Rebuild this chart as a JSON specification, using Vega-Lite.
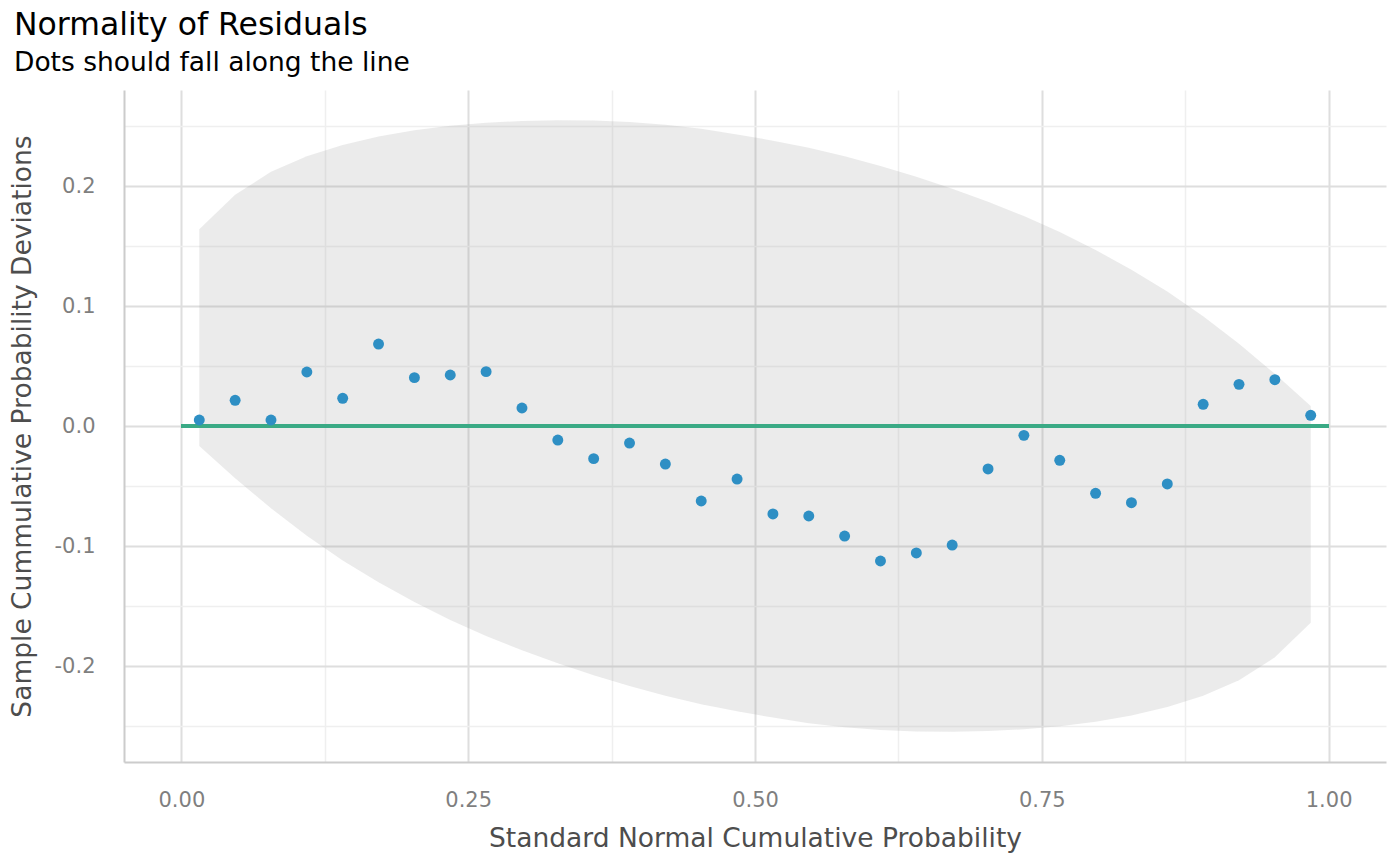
{
  "$schema": "https://vega.github.io/schema/vega-lite/v6.json",
  "width": 1262,
  "height": 672,
  "autosize": "none",
  "padding": {"left": 124, "top": 90, "right": 14, "bottom": 104},
  "background": "white",
  "title": {
    "text": "Normality of Residuals",
    "subtitle": "Dots should fall along the line",
    "anchor": "start",
    "frame": "group",
    "dx": -110,
    "offset": 14,
    "font": "DejaVu Sans",
    "subtitleFont": "DejaVu Sans",
    "fontSize": 31.5,
    "subtitleFontSize": 26.5,
    "fontWeight": "normal",
    "color": "#000000",
    "subtitleColor": "#000000",
    "subtitlePadding": 8.5
  },
  "config": {
    "view": {"stroke": null},
    "font": "DejaVu Sans",
    "axis": {
      "labelFont": "DejaVu Sans",
      "titleFont": "DejaVu Sans",
      "labelFontSize": 21,
      "titleFontSize": 26.5,
      "labelColor": "#7f7f7f",
      "titleColor": "#4d4d4d",
      "titleFontWeight": "normal",
      "ticks": false,
      "domainColor": "#cccccc",
      "domainWidth": 2,
      "gridColor": "#dedede",
      "gridWidth": 2
    }
  },
  "data": {
    "values": [
      {"p": 0.015625, "dev": 0.005, "lower": -0.0167, "upper": 0.164},
      {"p": 0.046875, "dev": 0.0214, "lower": -0.0435, "upper": 0.1928},
      {"p": 0.078125, "dev": 0.005, "lower": -0.0685, "upper": 0.2118},
      {"p": 0.109375, "dev": 0.045, "lower": -0.0915, "upper": 0.2248},
      {"p": 0.140625, "dev": 0.0231, "lower": -0.112, "upper": 0.2342},
      {"p": 0.171875, "dev": 0.0683, "lower": -0.1302, "upper": 0.2413},
      {"p": 0.203125, "dev": 0.0403, "lower": -0.1467, "upper": 0.2465},
      {"p": 0.234375, "dev": 0.0425, "lower": -0.1616, "upper": 0.2502},
      {"p": 0.265625, "dev": 0.0453, "lower": -0.175, "upper": 0.2527},
      {"p": 0.296875, "dev": 0.015, "lower": -0.1868, "upper": 0.2542},
      {"p": 0.328125, "dev": -0.0117, "lower": -0.1978, "upper": 0.2548},
      {"p": 0.359375, "dev": -0.0272, "lower": -0.2078, "upper": 0.2545},
      {"p": 0.390625, "dev": -0.0142, "lower": -0.2167, "upper": 0.2533},
      {"p": 0.421875, "dev": -0.0317, "lower": -0.2248, "upper": 0.2511},
      {"p": 0.453125, "dev": -0.0625, "lower": -0.2318, "upper": 0.2478},
      {"p": 0.484375, "dev": -0.0442, "lower": -0.2378, "upper": 0.243},
      {"p": 0.515625, "dev": -0.0733, "lower": -0.243, "upper": 0.2378},
      {"p": 0.546875, "dev": -0.075, "lower": -0.2478, "upper": 0.2318},
      {"p": 0.578125, "dev": -0.0917, "lower": -0.2511, "upper": 0.2248},
      {"p": 0.609375, "dev": -0.1125, "lower": -0.2533, "upper": 0.2167},
      {"p": 0.640625, "dev": -0.1058, "lower": -0.2545, "upper": 0.2078},
      {"p": 0.671875, "dev": -0.0992, "lower": -0.2548, "upper": 0.1978},
      {"p": 0.703125, "dev": -0.0358, "lower": -0.2542, "upper": 0.1868},
      {"p": 0.734375, "dev": -0.0078, "lower": -0.2527, "upper": 0.175},
      {"p": 0.765625, "dev": -0.0286, "lower": -0.2502, "upper": 0.1616},
      {"p": 0.796875, "dev": -0.0561, "lower": -0.2465, "upper": 0.1467},
      {"p": 0.828125, "dev": -0.0639, "lower": -0.2413, "upper": 0.1302},
      {"p": 0.859375, "dev": -0.0483, "lower": -0.2342, "upper": 0.112},
      {"p": 0.890625, "dev": 0.0181, "lower": -0.2248, "upper": 0.0915},
      {"p": 0.921875, "dev": 0.0347, "lower": -0.2118, "upper": 0.0685},
      {"p": 0.953125, "dev": 0.0386, "lower": -0.1928, "upper": 0.0435},
      {"p": 0.984375, "dev": 0.0089, "lower": -0.164, "upper": 0.0167}
    ]
  },
  "layer": [
    {
      "mark": {"type": "area", "color": "#999999", "opacity": 0.2},
      "encoding": {
        "x": {
          "field": "p",
          "type": "quantitative",
          "scale": {"domain": [-0.05, 1.05], "nice": false, "zero": false},
          "axis": {
            "orient": "bottom",
            "values": [0.125, 0.375, 0.625, 0.875],
            "grid": true,
            "labels": false,
            "domain": false,
            "title": null,
            "gridColor": "#efefef",
            "gridWidth": 1.5
          }
        },
        "y": {
          "field": "upper",
          "type": "quantitative",
          "scale": {"domain": [-0.28, 0.28], "nice": false, "zero": false},
          "axis": {
            "orient": "left",
            "values": [-0.25, -0.15, -0.05, 0.05, 0.15, 0.25],
            "grid": true,
            "labels": false,
            "domain": false,
            "title": null,
            "gridColor": "#efefef",
            "gridWidth": 1.5
          }
        },
        "y2": {"field": "lower"}
      }
    },
    {
      "mark": {"type": "rule", "color": "#3aaa85", "strokeWidth": 4},
      "encoding": {
        "x": {"datum": 0, "type": "quantitative", "axis": null},
        "x2": {"datum": 1},
        "y": {"datum": 0, "type": "quantitative", "axis": null}
      }
    },
    {
      "mark": {"type": "circle", "color": "#2e8fc4", "opacity": 1, "size": 120},
      "encoding": {
        "x": {
          "field": "p",
          "type": "quantitative",
          "axis": {
            "orient": "bottom",
            "values": [0, 0.25, 0.5, 0.75, 1],
            "grid": true,
            "format": ".2f",
            "labelPadding": 27,
            "title": "Standard Normal Cumulative Probability",
            "titleY": 84,
            "titleBaseline": "alphabetic"
          }
        },
        "y": {
          "field": "dev",
          "type": "quantitative",
          "axis": {
            "orient": "left",
            "values": [-0.2, -0.1, 0, 0.1, 0.2],
            "grid": true,
            "labelExpr": "datum.value < 0 ? '-' + format(-datum.value, '.1f') : format(datum.value, '.1f')",
            "labelPadding": 29,
            "title": "Sample Cummulative Probability Deviations",
            "titleX": -102,
            "titleY": 336,
            "titleAngle": -90,
            "titleBaseline": "middle",
            "titleAlign": "center"
          }
        }
      }
    }
  ],
  "resolve": {"axis": {"x": "independent", "y": "independent"}}
}
